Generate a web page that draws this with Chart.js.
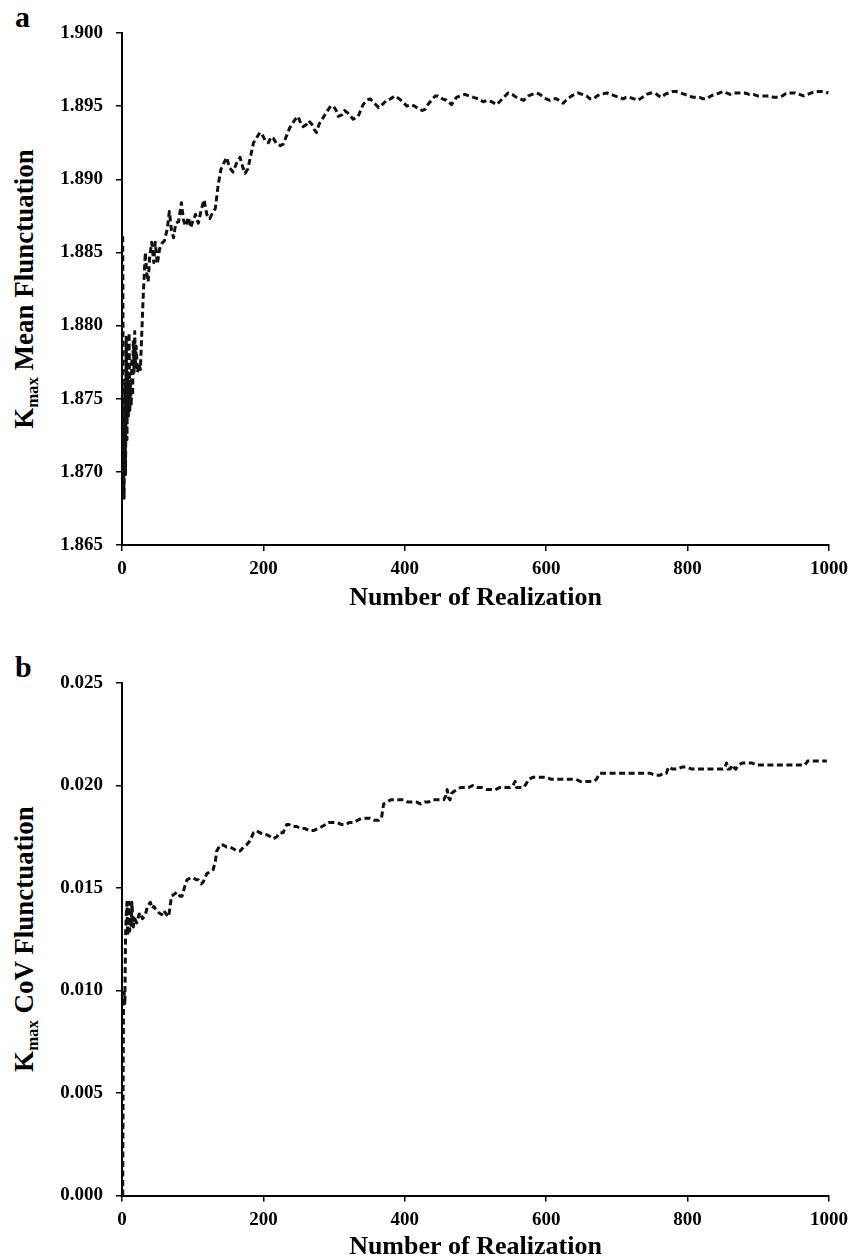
<!DOCTYPE html>
<html>
<head>
<meta charset="utf-8">
<script src="https://cdn.jsdelivr.net/npm/chart.js@4.4.0/dist/chart.umd.min.js"></script>
<style>
body{margin:0;width:862px;height:1260px;overflow:hidden;background:#fff;position:relative;font-family:'Liberation Serif','Times New Roman',serif;color:#000;}
canvas{position:absolute;left:0;}
#chart-a{top:0;}
#chart-b{top:620px;}
.panel-letter{position:absolute;left:15px;font-weight:bold;font-size:30px;line-height:1;}
.y-title{position:absolute;font-weight:bold;font-size:27px;line-height:1;white-space:nowrap;transform:translate(-50%,-50%) rotate(-90deg);}
.y-title sub{font-size:0.62em;vertical-align:baseline;position:relative;top:0.28em;}
</style>
</head>
<body>
<div class="panel-letter" style="top:2px;">a</div>
<div class="panel-letter" style="top:652px;">b</div>
<div class="y-title" style="left:24px;top:289px;">K<sub>max</sub> Mean Flunctuation</div>
<div class="y-title" style="left:24px;top:939px;">K<sub>max</sub> CoV Flunctuation</div>
<canvas id="chart-a" width="862" height="620"></canvas>
<canvas id="chart-b" width="862" height="640"></canvas>
<script>
//Data
const REALIZATION_A = [1,2,3,4,5,6,7,8,9,10,11,12,13,14,15,16,17,18,19,20,22,24,26,28,30,33,35,37,39,42,45,47,50,53,56,60,64,67,70,73,76,80,84,87,90,94,97,100,104,108,112,116,120,124,128,132,136,140,144,148,152,157,162,167,171,174,178,182,186,190,195,198,203,207,211,214,219,224,228,233,237,241,245,249,253,256,260,264,268,272,275,279,283,287,291,295,299,303,306,311,315,320,327,334,341,346,351,357,363,368,374,380,386,392,397,403,409,414,420,425,429,434,438,443,447,453,459,466,473,479,485,491,497,504,511,517,523,530,538,546,552,558,563,568,575,580,586,591,596,600,605,610,615,620,624,630,636,645,651,657,662,667,672,676,686,692,697,703,709,713,718,724,730,736,742,748,754,759,763,768,773,779,784,790,796,802,808,813,817,822,827,833,839,845,850,855,860,865,869,875,881,887,893,899,905,911,917,922,928,934,940,946,952,958,964,970,975,981,987,993,999];
const MEAN_A = [1.8861,1.8705,1.8682,1.8760,1.8698,1.8792,1.8722,1.8768,1.8738,1.8795,1.8742,1.8762,1.8745,1.8778,1.8752,1.8790,1.8768,1.8796,1.8772,1.8786,1.8768,1.8774,1.8770,1.8795,1.8820,1.8850,1.8836,1.8830,1.8846,1.8857,1.8843,1.8857,1.8842,1.8852,1.8856,1.8858,1.8866,1.8878,1.8865,1.8860,1.8870,1.8871,1.8884,1.8872,1.8868,1.8874,1.8867,1.8871,1.8876,1.8870,1.8879,1.8886,1.8876,1.8873,1.8877,1.8880,1.8896,1.8907,1.8911,1.8915,1.8908,1.8905,1.8911,1.8915,1.8908,1.8904,1.8907,1.8916,1.8925,1.8928,1.8932,1.8931,1.8926,1.8925,1.8929,1.8928,1.8924,1.8923,1.8924,1.8930,1.8935,1.8938,1.8941,1.8943,1.8938,1.8936,1.8937,1.8940,1.8938,1.8934,1.8932,1.8938,1.8941,1.8944,1.8947,1.8950,1.8950,1.8947,1.8943,1.8944,1.8947,1.8945,1.8941,1.8943,1.8951,1.8954,1.8955,1.8952,1.8949,1.8951,1.8954,1.8955,1.8957,1.8955,1.8953,1.8950,1.8951,1.8950,1.8948,1.8947,1.8948,1.8952,1.8954,1.8957,1.8957,1.8955,1.8954,1.8951,1.8956,1.8957,1.8958,1.8957,1.8956,1.8955,1.8953,1.8954,1.8953,1.8951,1.8955,1.8959,1.8958,1.8956,1.8955,1.8954,1.8957,1.8958,1.8959,1.8958,1.8956,1.8955,1.8954,1.8955,1.8955,1.8953,1.8952,1.8955,1.8957,1.8959,1.8958,1.8957,1.8955,1.8955,1.8957,1.8958,1.8959,1.8958,1.8957,1.8956,1.8955,1.8956,1.8956,1.8955,1.8954,1.8956,1.8958,1.8959,1.8959,1.8957,1.8956,1.8958,1.8959,1.8960,1.8960,1.8959,1.8958,1.8957,1.8956,1.8956,1.8956,1.8955,1.8955,1.8957,1.8958,1.8959,1.8960,1.8959,1.8958,1.8959,1.8959,1.8959,1.8959,1.8958,1.8958,1.8957,1.8957,1.8957,1.8957,1.8956,1.8956,1.8957,1.8959,1.8959,1.8959,1.8958,1.8957,1.8958,1.8959,1.8960,1.8960,1.8960,1.8959];

const REALIZATION_B = [1,2,3,4,5,6,7,8,9,10,11,12,13,14,16,18,21,24,26,29,33,36,40,43,45,49,52,56,59,63,66,70,74,78,82,85,89,92,97,101,105,108,112,115,120,125,129,132,134,139,143,148,153,158,163,167,172,176,181,186,190,195,200,205,210,214,219,223,228,233,236,241,247,253,259,265,271,277,283,288,292,298,304,310,316,322,328,333,339,345,351,357,363,367,370,375,380,386,392,398,404,410,416,422,428,434,440,446,451,455,458,460,462,464,466,469,474,479,485,490,496,502,509,516,522,528,534,540,545,549,553,556,558,563,568,572,575,581,587,594,601,607,613,619,624,630,636,642,648,655,662,667,671,676,683,690,697,704,711,718,725,733,740,747,754,761,766,770,773,779,785,792,799,806,813,820,827,834,841,846,850,853,855,857,860,863,865,868,872,878,884,891,898,905,912,920,927,934,941,948,955,961,966,970,977,983,990,997];
const COV_B = [0.0000,0.0089,0.0099,0.0093,0.0126,0.0137,0.0143,0.0127,0.0132,0.0143,0.0129,0.0136,0.0131,0.0143,0.0131,0.0135,0.0133,0.0137,0.0138,0.0135,0.0137,0.0141,0.0143,0.0140,0.0141,0.0139,0.0138,0.0137,0.0139,0.0137,0.0136,0.0146,0.0147,0.0148,0.0146,0.0146,0.0151,0.0154,0.0155,0.0155,0.0154,0.0154,0.0152,0.0153,0.0157,0.0158,0.0159,0.0163,0.0168,0.0171,0.0171,0.0170,0.0170,0.0169,0.0168,0.0168,0.0170,0.0171,0.0173,0.0177,0.0178,0.0177,0.0176,0.0176,0.0175,0.0174,0.0175,0.0177,0.0177,0.0181,0.0181,0.0180,0.0180,0.0179,0.0179,0.0178,0.0178,0.0179,0.0180,0.0181,0.0182,0.0182,0.0182,0.0181,0.0181,0.0182,0.0182,0.0183,0.0184,0.0184,0.0184,0.0183,0.0183,0.0184,0.0191,0.0192,0.0193,0.0193,0.0193,0.0193,0.0192,0.0192,0.0192,0.0191,0.0192,0.0192,0.0193,0.0193,0.0193,0.0193,0.0195,0.0198,0.0194,0.0193,0.0196,0.0197,0.0198,0.0199,0.0199,0.0199,0.0200,0.0199,0.0199,0.0198,0.0198,0.0198,0.0199,0.0199,0.0199,0.0199,0.0200,0.0202,0.0199,0.0199,0.0199,0.0201,0.0203,0.0204,0.0204,0.0204,0.0204,0.0203,0.0203,0.0203,0.0203,0.0203,0.0203,0.0203,0.0202,0.0202,0.0202,0.0202,0.0203,0.0206,0.0206,0.0206,0.0206,0.0206,0.0206,0.0206,0.0206,0.0206,0.0206,0.0206,0.0205,0.0205,0.0206,0.0206,0.0209,0.0208,0.0208,0.0209,0.0209,0.0208,0.0208,0.0208,0.0208,0.0208,0.0208,0.0208,0.0208,0.0209,0.0211,0.0208,0.0208,0.0210,0.0209,0.0208,0.0210,0.0211,0.0211,0.0211,0.0210,0.0210,0.0210,0.0210,0.0210,0.0210,0.0210,0.0210,0.0210,0.0210,0.0210,0.0212,0.0212,0.0212,0.0212,0.0212];

const X_TICKS = [0, 200, 400, 600, 800, 1000];
const MEAN_TICKS = [1.865, 1.870, 1.875, 1.880, 1.885, 1.890, 1.895, 1.900];
const COV_TICKS = [0.000, 0.005, 0.010, 0.015, 0.020, 0.025];
const X_TITLE = 'Number of Realization';

const FONT_FAMILY = "'Liberation Serif', 'Times New Roman', serif";

//Build the {x, y} points of a series
function to_points(xs, ys){
    return xs.map((x, i) => ({x: x, y: ys[i]}));
}

//Common axis look: black border, outside tick marks, no grid
function axis_style(){
    return {
        grid: {display: true, drawOnChartArea: false, drawTicks: true, tickLength: 6, color: '#000', lineWidth: 1.5},
        border: {display: true, color: '#000', width: 2}
    };
}

function make_chart(canvas_id, xs, ys, y_ticks, decimals, top, x_height, bottom){
    const data = {
        datasets: [{
            data: to_points(xs, ys),
            borderColor: '#111',
            borderWidth: 3,
            borderDash: [6, 3.5],
            borderJoinStyle: 'round',
            pointRadius: 0,
            tension: 0,
            fill: false
        }]
    };
    const options = {
        responsive: false,
        animation: false,
        devicePixelRatio: 1,
        events: [],
        layout: {padding: {top: top, right: 33, bottom: bottom, left: 0}},
        plugins: {legend: {display: false}, tooltip: {enabled: false}},
        scales: {
            x: Object.assign(axis_style(), {
                type: 'linear',
                min: X_TICKS[0],
                max: X_TICKS[X_TICKS.length - 1],
                afterBuildTicks: (scale) => { scale.ticks = X_TICKS.map(v => ({value: v})); },
                afterFit: (scale) => { scale.height = x_height; },
                ticks: {
                    padding: 7,
                    color: '#000',
                    font: {family: FONT_FAMILY, size: 19, weight: 'bold'},
                    callback: (v) => String(v)
                },
                title: {
                    display: true,
                    text: X_TITLE,
                    color: '#000',
                    padding: 0,
                    font: {family: FONT_FAMILY, size: 26, weight: 'bold', lineHeight: 1}
                }
            }),
            y: Object.assign(axis_style(), {
                type: 'linear',
                min: y_ticks[0],
                max: y_ticks[y_ticks.length - 1],
                afterBuildTicks: (scale) => { scale.ticks = y_ticks.map(v => ({value: v})); },
                afterFit: (scale) => { scale.width = 122; },
                ticks: {
                    padding: 13,
                    color: '#000',
                    font: {family: FONT_FAMILY, size: 19, weight: 'bold'},
                    callback: (v) => Number(v).toFixed(decimals)
                }
            })
        }
    };
    return new Chart(document.getElementById(canvas_id), {type: 'line', data: data, options: options});
}

make_chart('chart-a', REALIZATION_A, MEAN_A, MEAN_TICKS, 3, 33, 66.5, 8.5);
make_chart('chart-b', REALIZATION_B, COV_B, COV_TICKS, 3, 63, 64.5, 0);
</script>
</body>
</html>
